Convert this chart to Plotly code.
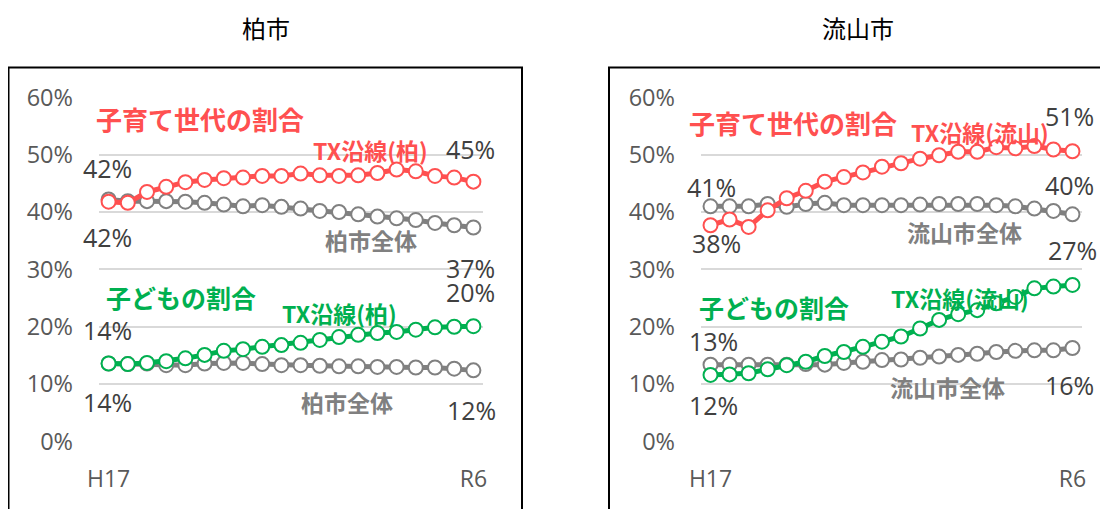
import plotly.graph_objects as go

# page has an 8px body margin, so the figure is 1100x501 and coordinates below are page pixels
OFF = 8
W, H = 1100, 501

years = ["H17","H18","H19","H20","H21","H22","H23","H24","H25","H26","H27","H28","H29","H30",
         "R1","R2","R3","R4","R5","R6"]

# 柏市
kashiwa_tx_parent = [41.8,41.6,43.5,44.4,45.2,45.6,45.9,46.0,46.3,46.3,46.7,46.4,46.3,46.4,46.8,47.4,47.1,46.3,46.0,45.3]
kashiwa_all_parent = [42.2,41.9,41.9,41.9,41.8,41.6,41.3,41.0,41.2,40.9,40.6,40.2,40.0,39.6,39.2,38.9,38.6,38.1,37.7,37.3]
kashiwa_tx_child = [13.6,13.5,13.7,14.0,14.5,15.1,15.8,16.1,16.5,16.8,17.2,17.7,18.2,18.6,18.9,19.1,19.5,19.9,20.0,20.1]
kashiwa_all_child = [13.6,13.5,13.6,13.3,13.3,13.6,13.7,13.7,13.5,13.3,13.3,13.2,13.1,13.1,13.0,13.0,12.9,12.9,12.7,12.4]

# 流山市
nagareyama_tx_parent = [37.7,38.7,37.4,40.3,42.4,43.7,45.3,46.1,46.9,47.9,48.5,49.3,49.9,50.5,50.5,51.3,51.1,51.5,50.9,50.6]
nagareyama_all_parent = [41.0,41.0,41.0,41.4,40.9,41.4,41.6,41.2,41.2,41.2,41.2,41.3,41.4,41.4,41.4,41.2,41.0,40.6,40.2,39.6]
nagareyama_tx_child = [11.6,11.7,11.9,12.6,13.3,13.9,14.9,15.6,16.5,17.4,18.3,19.7,21.2,22.2,22.9,24.1,25.2,26.7,27.0,27.3]
nagareyama_all_child = [13.4,13.4,13.4,13.4,13.4,13.5,13.4,13.7,13.9,14.2,14.3,14.6,14.8,15.1,15.3,15.6,15.8,15.9,15.9,16.3]

RED = "#FF5050"
GREEN = "#00B050"
GRAY = "#808080"
LBL = "#404040"
TICK = "#595959"
JP = "Noto Sans CJK JP"
NUM = "Open Sans, Noto Sans CJK JP"

def px(x):
    return (x - OFF) / W

def py(y):
    return 1 - (y - OFF) / H

fig = go.Figure()

def add_series(vals, color, xa, ya):
    fig.add_trace(go.Scatter(
        x=years, y=[v / 100 for v in vals], xaxis=xa, yaxis=ya,
        mode="lines+markers",
        line=dict(color=color, width=5),
        marker=dict(size=14, color="white", line=dict(color=color, width=2)),
        cliponaxis=False, showlegend=False, hoverinfo="skip"))

add_series(kashiwa_all_parent, GRAY, "x", "y")
add_series(kashiwa_tx_parent, RED, "x", "y")
add_series(kashiwa_all_child, GRAY, "x", "y")
add_series(kashiwa_tx_child, GREEN, "x", "y")
add_series(nagareyama_all_parent, GRAY, "x2", "y2")
add_series(nagareyama_tx_parent, RED, "x2", "y2")
add_series(nagareyama_all_child, GRAY, "x2", "y2")
add_series(nagareyama_tx_child, GREEN, "x2", "y2")

ydom = [py(441.5), py(97.3)]
common_x = dict(type="category", categoryorder="array", categoryarray=years,
                range=[-0.5, 19.5], tickvals=["H17", "R6"], showgrid=False, zeroline=False,
                showline=False, ticks="", ticklabelstandoff=21, automargin=False,
                tickfont=dict(family=NUM, size=23, color=TICK), fixedrange=True)
common_y = dict(range=[0, 0.6], dtick=0.1, tickformat=".0%", showgrid=True,
                gridcolor="#D9D9D9", gridwidth=1.5, zeroline=False, showline=False,
                ticks="", ticklabelstandoff=25, automargin=False,
                tickfont=dict(family=NUM, size=23.5, color=TICK), fixedrange=True)

fig.update_layout(
    width=W, height=H, margin=dict(l=0, r=0, t=0, b=0, autoexpand=False),
    paper_bgcolor="white", plot_bgcolor="white",
    xaxis=dict(domain=[px(99), px(483)], anchor="y", **common_x),
    yaxis=dict(domain=ydom, anchor="x", **common_y),
    xaxis2=dict(domain=[px(701), px(1082)], anchor="y2", **common_x),
    yaxis2=dict(domain=ydom, anchor="x2", **common_y),
)

# panel borders
fig.add_shape(type="rect", xref="paper", yref="paper", x0=px(8.5), x1=px(522), y0=py(520), y1=py(67.5),
              line=dict(color="black", width=2))
fig.add_shape(type="rect", xref="paper", yref="paper", x0=px(609), x1=px(1125), y0=py(520), y1=py(67.5),
              line=dict(color="black", width=2))

ann = []

def text_at(x, y, t, color, size, bold=False, family=JP):
    ann.append(dict(x=px(x), y=py(y), xref="paper", yref="paper", text=f"<b>{t}</b>" if bold else t,
                    showarrow=False, xanchor="center", yanchor="middle",
                    font=dict(family=family, size=size, color=color)))

# titles
text_at(266, 27, "柏市", "black", 24)
text_at(858, 27, "流山市", "black", 24)

def value_label(vals, idx, xa, ya, xshift, yshift):
    v = vals[idx]
    ann.append(dict(x=years[idx], y=v / 100, xref=xa, yref=ya, text=f"{round(v)}%",
                    showarrow=False, xanchor="center", yanchor="middle",
                    xshift=xshift, yshift=yshift,
                    font=dict(family=NUM, size=25, color=LBL)))

# 柏市 value labels
value_label(kashiwa_tx_parent, 0, "x", "y", -1, 34)
value_label(kashiwa_all_parent, 0, "x", "y", -1, -38)
value_label(kashiwa_tx_parent, 19, "x", "y", -3, 33)
value_label(kashiwa_all_parent, 19, "x", "y", -3, -40)
value_label(kashiwa_tx_child, 19, "x", "y", -3, 34)
value_label(kashiwa_tx_child, 0, "x", "y", -1, 33)
value_label(kashiwa_all_child, 0, "x", "y", -1, -39)
value_label(kashiwa_all_child, 19, "x", "y", -2, -40)

# 流山市 value labels
value_label(nagareyama_all_parent, 0, "x2", "y2", 1, 19)
value_label(nagareyama_tx_parent, 0, "x2", "y2", 6, -18)
value_label(nagareyama_tx_parent, 19, "x2", "y2", -3, 35)
value_label(nagareyama_all_parent, 19, "x2", "y2", -3, 29)
value_label(nagareyama_tx_child, 19, "x2", "y2", 0, 35)
value_label(nagareyama_all_child, 0, "x2", "y2", 3, 24)
value_label(nagareyama_tx_child, 0, "x2", "y2", 3, -30)
value_label(nagareyama_all_child, 19, "x2", "y2", -3, -37)

# series labels
text_at(200, 118, "子育て世代の割合", RED, 26, True)
text_at(370, 150, "TX沿線(柏)", RED, 23, True)
text_at(371, 240, "柏市全体", GRAY, 23, True)
text_at(181, 297, "子どもの割合", GREEN, 25, True)
text_at(339, 313, "TX沿線(柏)", GREEN, 23, True)
text_at(347, 402, "柏市全体", GRAY, 23, True)

text_at(793, 122, "子育て世代の割合", RED, 26, True)
text_at(980, 132, "TX沿線(流山)", RED, 23, True)
text_at(964, 232, "流山市全体", GRAY, 23, True)
text_at(774, 307, "子どもの割合", GREEN, 25, True)
text_at(960, 298, "TX沿線(流山)", GREEN, 23, True)
text_at(947, 387, "流山市全体", GRAY, 23, True)

fig.update_layout(annotations=ann)

fig.write_html("out.html")
